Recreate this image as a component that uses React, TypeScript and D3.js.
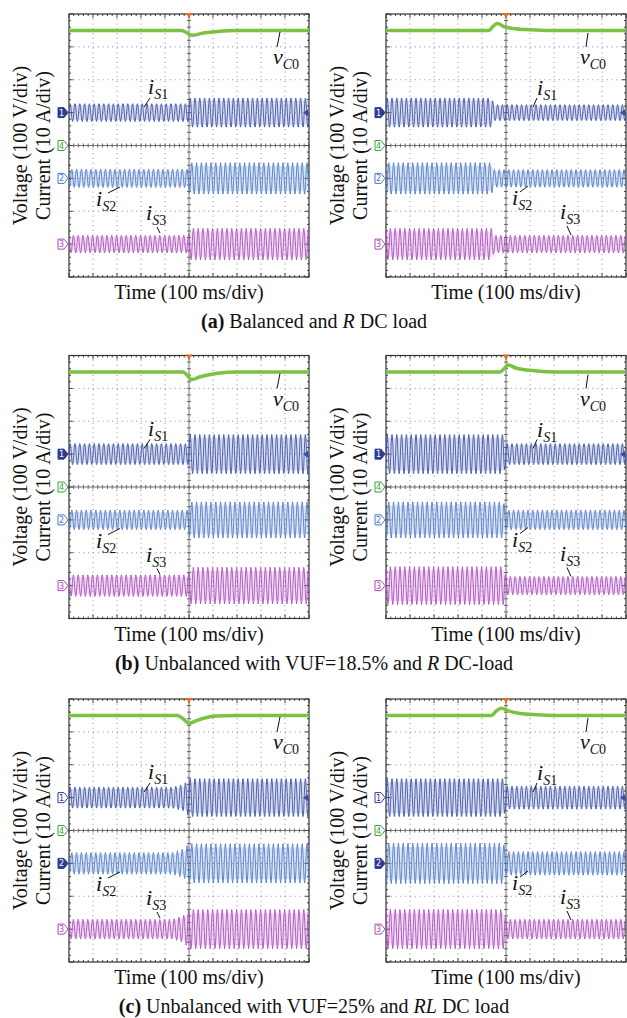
import React from 'react'
import * as d3 from 'd3'

const W = 627
const H = 1018
const PW = 240
const PH = 263
const DIVS_X = 10
const DIVS_Y = 8
const CYCLES_PER_DIV = 5 // 50 Hz grid at 100 ms/div

// trace levels, in divisions from the bottom of the screen
const LEVEL_VC0 = 7.5
const LEVEL_CH1 = 5
const LEVEL_CH4 = 4
const LEVEL_CH2 = 3
const LEVEL_CH3 = 1

// current envelopes: [time (div), half amplitude (div)]
const IS1_A_LEFT = [[0, 0.28], [4.97, 0.28], [5.03, 0.46], [10, 0.46]]
const IS2_A_LEFT = [[0, 0.28], [4.97, 0.28], [5.03, 0.48], [10, 0.48]]
const IS3_A_LEFT = [[0, 0.27], [4.97, 0.27], [5.03, 0.48], [10, 0.48]]
const IS1_A_RIGHT = [[0, 0.46], [4.4, 0.46], [4.5, 0.25], [10, 0.25]]
const IS2_A_RIGHT = [[0, 0.48], [4.4, 0.48], [4.5, 0.27], [10, 0.27]]
const IS3_A_RIGHT = [[0, 0.48], [4.4, 0.48], [4.5, 0.27], [10, 0.27]]

const IS1_B_LEFT = [[0, 0.33], [4.97, 0.33], [5.03, 0.62], [10, 0.62]]
const IS2_B_LEFT = [[0, 0.3], [4.97, 0.3], [5.03, 0.55], [10, 0.55]]
const IS3_B_LEFT = [[0, 0.33], [4.97, 0.33], [5.03, 0.56], [10, 0.56]]
const IS1_B_RIGHT = [[0, 0.62], [4.9, 0.62], [5.0, 0.33], [10, 0.33]]
const IS2_B_RIGHT = [[0, 0.55], [4.9, 0.55], [5.0, 0.3], [10, 0.3]]
const IS3_B_RIGHT = [[0, 0.58], [4.9, 0.58], [5.0, 0.28], [10, 0.28]]

const IS1_C_LEFT = [[0, 0.33], [4.3, 0.33], [4.8, 0.42], [5.0, 0.6], [10, 0.6]]
const IS2_C_LEFT = [[0, 0.33], [4.3, 0.33], [4.8, 0.45], [5.0, 0.6], [10, 0.6]]
const IS3_C_LEFT = [[0, 0.3], [4.3, 0.3], [4.8, 0.42], [5.0, 0.6], [10, 0.6]]
const IS1_C_RIGHT = [[0, 0.6], [4.9, 0.6], [5.0, 0.36], [10, 0.36]]
const IS2_C_RIGHT = [[0, 0.62], [4.9, 0.62], [5.0, 0.36], [10, 0.36]]
const IS3_C_RIGHT = [[0, 0.6], [4.9, 0.6], [5.0, 0.3], [10, 0.3]]

// dc-link voltage deviation: [time (div), offset (div)]
const VC0_A_LEFT = [[0, 0], [4.7, 0], [4.9, -0.07], [5.1, -0.15], [5.6, -0.08], [6.2, -0.03], [7, 0], [10, 0]]
const VC0_A_RIGHT = [[0, 0], [4.3, 0], [4.45, 0.12], [4.65, 0.21], [4.9, 0.12], [5.3, 0.06], [6, 0.02], [6.8, 0], [10, 0]]
const VC0_B_LEFT = [[0, 0], [4.75, 0], [4.95, -0.12], [5.1, -0.23], [5.5, -0.14], [6.2, -0.04], [7, 0], [10, 0]]
const VC0_B_RIGHT = [[0, 0], [4.75, 0], [4.95, 0.12], [5.1, 0.21], [5.4, 0.12], [6, 0.05], [7, 0], [10, 0]]
const VC0_C_LEFT = [[0, 0], [4.5, 0], [4.8, -0.13], [5.0, -0.24], [5.3, -0.16], [5.7, -0.07], [6.1, -0.02], [7, 0], [10, 0]]
const VC0_C_RIGHT = [[0, 0], [4.4, 0], [4.6, 0.14], [4.8, 0.22], [5.1, 0.14], [5.6, 0.06], [6.3, 0.02], [7, 0], [10, 0]]

const CAPTIONS = [
  [['(a)', 'b'], [' Balanced and ', ''], ['R', 'i'], [' DC load', '']],
  [['(b)', 'b'], [' Unbalanced with VUF=18.5% and ', ''], ['R', 'i'], [' DC-load', '']],
  [['(c)', 'b'], [' Unbalanced with VUF=25% and ', ''], ['RL', 'i'], [' DC load', '']],
]

const Y_LABEL_1 = 'Voltage (100 V/div)'
const Y_LABEL_2 = 'Current (10 A/div)'
const X_LABEL = 'Time (100 ms/div)'

const COL_VC0 = '#7cc242'
const COL_IS1 = '#3a4ea6'
const COL_IS2 = '#4877c6'
const COL_IS3 = '#aa48bd'
const COL_CH4 = '#3aa53a'
const FONT = '"Liberation Serif", "Times New Roman", serif'

const ROWS = [14, 355.5, 699]
const COLS = [69, 386]

const PANELS = [
  { row: 0, col: 0, is1: IS1_A_LEFT, is2: IS2_A_LEFT, is3: IS3_A_LEFT, vc0: VC0_A_LEFT, filled: 1 },
  { row: 0, col: 1, is1: IS1_A_RIGHT, is2: IS2_A_RIGHT, is3: IS3_A_RIGHT, vc0: VC0_A_RIGHT, filled: 1 },
  { row: 1, col: 0, is1: IS1_B_LEFT, is2: IS2_B_LEFT, is3: IS3_B_LEFT, vc0: VC0_B_LEFT, filled: 1 },
  { row: 1, col: 1, is1: IS1_B_RIGHT, is2: IS2_B_RIGHT, is3: IS3_B_RIGHT, vc0: VC0_B_RIGHT, filled: 1 },
  { row: 2, col: 0, is1: IS1_C_LEFT, is2: IS2_C_LEFT, is3: IS3_C_LEFT, vc0: VC0_C_LEFT, filled: 2 },
  { row: 2, col: 1, is1: IS1_C_RIGHT, is2: IS2_C_RIGHT, is3: IS3_C_RIGHT, vc0: VC0_C_RIGHT, filled: 2 },
]

// label anchors relative to panel corner: [textX, baseline, leader x1, y1, x2, y2]
const LABELS_LEFT = {
  vc0: [204, 50, 211, 18, 208, 33],
  is1: [79, 80, 81, 84, 75, 93],
  is2: [27, 192, 39, 179, 51, 173],
  is3: [77, 206, 88, 213, 91, 219],
}
const LABELS_RIGHT = {
  vc0: [194, 50, 202, 19, 200, 33],
  is1: [151, 81, 151, 84, 147, 93],
  is2: [126, 191, 134, 178, 142, 172],
  is3: [174, 205, 181, 212, 185, 221],
}

function envScale(env) {
  return d3.scaleLinear().domain(env.map((d) => d[0])).range(env.map((d) => d[1]))
}

function wavePath(env, level, phase, x, y) {
  const amp = envScale(env)
  const ts = d3.range(0, DIVS_X + 0.0001, 0.02)
  return d3.line()
    .x((t) => x(t))
    .y((t) => y(level + amp(t) * Math.sin(2 * Math.PI * CYCLES_PER_DIV * t + phase)))(ts)
}

// faint persistence band between the envelope limits
function bandPath(env, level, x, y) {
  const amp = envScale(env)
  const ts = d3.range(0, DIVS_X + 0.0001, 0.05)
  return d3.area()
    .x((t) => x(t))
    .y0((t) => y(level - amp(t) * 0.8))
    .y1((t) => y(level + amp(t) * 0.8))(ts)
}

function Label({ main, sub, pos, ox, oy }) {
  const [tx, ty, x1, y1, x2, y2] = pos
  return (
    <g>
      <line x1={ox + x1} y1={oy + y1} x2={ox + x2} y2={oy + y2} stroke="#111" strokeWidth={1} />
      <text x={ox + tx} y={oy + ty} fontFamily={FONT} fill="#111">
        <tspan fontStyle="italic" fontSize={22}>{main}</tspan>
        <tspan fontStyle="italic" fontSize={14} dy={5}>{sub[0]}</tspan>
        <tspan fontSize={14}>{sub[1]}</tspan>
      </text>
    </g>
  )
}

function ChTag({ x, y, n, color, filled }) {
  const d = `M${x - 10},${y - 5}H${x - 4}L${x},${y}L${x - 4},${y + 5}H${x - 10}Z`
  return (
    <g>
      <path d={d} fill={filled ? color : '#fff'} stroke={color} strokeWidth={1} />
      <text x={x - 6.5} y={y + 3} fontSize={8} textAnchor="middle" fontFamily="DejaVu Sans"
        fill={filled ? '#fff' : color}>{n}</text>
    </g>
  )
}

function Panel({ p }) {
  const ox = COLS[p.col]
  const oy = ROWS[p.row]
  const x = d3.scaleLinear().domain([0, DIVS_X]).range([ox, ox + PW])
  const y = d3.scaleLinear().domain([0, DIVS_Y]).range([oy + PH, oy])
  const L = p.col === 0 ? LABELS_LEFT : LABELS_RIGHT
  const minorX = d3.range(0, DIVS_X + 0.001, 0.2)
  const minorY = d3.range(0, DIVS_Y + 0.001, 0.2)
  const vc0Line = d3.line().x((d) => x(d[0])).y((d) => y(LEVEL_VC0 + d[1])).curve(d3.curveMonotoneX)
  const traces = [
    { env: p.is3, level: LEVEL_CH3, phase: (2 * Math.PI) / 3, color: COL_IS3 },
    { env: p.is2, level: LEVEL_CH2, phase: (-2 * Math.PI) / 3, color: COL_IS2 },
    { env: p.is1, level: LEVEL_CH1, phase: 0, color: COL_IS1 },
  ]
  return (
    <g>
      {/* dotted grid */}
      {d3.range(1, DIVS_X).filter((i) => i !== 5).map((i) => (
        <line key={'gx' + i} x1={x(i)} x2={x(i)} y1={oy} y2={oy + PH} stroke="#888" strokeWidth={1} strokeDasharray="1,3.8" />
      ))}
      {d3.range(1, DIVS_Y).filter((i) => i !== 4).map((i) => (
        <line key={'gy' + i} x1={ox} x2={ox + PW} y1={y(i)} y2={y(i)} stroke="#888" strokeWidth={1} strokeDasharray="1,3.8" />
      ))}
      {/* centre axes with minor ticks */}
      <line x1={x(5)} x2={x(5)} y1={oy} y2={oy + PH} stroke="#777" strokeWidth={1} />
      <line x1={ox} x2={ox + PW} y1={y(4)} y2={y(4)} stroke="#777" strokeWidth={1} />
      {minorX.map((t, i) => (
        <line key={'cx' + i} x1={x(t)} x2={x(t)} y1={y(4) - 2} y2={y(4) + 2} stroke="#666" />
      ))}
      {minorY.map((t, i) => (
        <line key={'cy' + i} x1={x(5) - 2} x2={x(5) + 2} y1={y(t)} y2={y(t)} stroke="#666" />
      ))}
      {/* border ticks */}
      {minorX.map((t, i) => {
        const len = Math.abs(t - Math.round(t)) < 0.01 ? 4 : 2
        return (
          <g key={'bx' + i}>
            <line x1={x(t)} x2={x(t)} y1={oy} y2={oy + len} stroke="#444" />
            <line x1={x(t)} x2={x(t)} y1={oy + PH} y2={oy + PH - len} stroke="#444" />
          </g>
        )
      })}
      {minorY.map((t, i) => {
        const len = Math.abs(t - Math.round(t)) < 0.01 ? 4 : 2
        return (
          <g key={'by' + i}>
            <line x1={ox} x2={ox + len} y1={y(t)} y2={y(t)} stroke="#444" />
            <line x1={ox + PW} x2={ox + PW - len} y1={y(t)} y2={y(t)} stroke="#444" />
          </g>
        )
      })}
      <rect x={ox} y={oy} width={PW} height={PH} fill="none" stroke="#333" strokeWidth={1.2} />

      {/* traces */}
      {traces.map((tr, i) => (
        <g key={'tr' + i}>
          <path d={bandPath(tr.env, tr.level, x, y)} fill={tr.color} fillOpacity={0.18} />
          <path d={wavePath(tr.env, tr.level, tr.phase, x, y)} fill="none" stroke={tr.color} strokeWidth={0.85} />
        </g>
      ))}
      <path d={vc0Line(p.vc0)} fill="none" stroke={COL_VC0} strokeWidth={3.5} />

      {/* trigger and channel markers */}
      <path d={`M${x(5) - 3.5},${oy - 1}L${x(5) + 3.5},${oy - 1}L${x(5)},${oy + 4}Z`} fill="#f06a24" />
      <path d={`M${ox + PW - 1},${y(LEVEL_CH1) - 3.5}L${ox + PW - 1},${y(LEVEL_CH1) + 3.5}L${ox + PW - 6},${y(LEVEL_CH1)}Z`} fill={COL_IS1} />
      <ChTag x={ox - 1} y={y(LEVEL_CH1)} n="1" color="#2e3c92" filled={p.filled === 1} />
      <ChTag x={ox - 1} y={y(LEVEL_CH4)} n="4" color={COL_CH4} filled={false} />
      <ChTag x={ox - 1} y={y(LEVEL_CH2)} n="2" color={p.filled === 2 ? '#2e3c92' : COL_IS2} filled={p.filled === 2} />
      <ChTag x={ox - 1} y={y(LEVEL_CH3)} n="3" color={COL_IS3} filled={false} />

      {/* labels */}
      <Label main="v" sub={['C', '0']} pos={L.vc0} ox={ox} oy={oy} />
      <Label main="i" sub={['S', '1']} pos={L.is1} ox={ox} oy={oy} />
      <Label main="i" sub={['S', '2']} pos={L.is2} ox={ox} oy={oy} />
      <Label main="i" sub={['S', '3']} pos={L.is3} ox={ox} oy={oy} />

      {/* axis titles */}
      <text transform={`translate(${ox - 42},${oy + PH / 2}) rotate(-90)`} textAnchor="middle" fontSize={20} fontFamily={FONT} fill="#111">{Y_LABEL_1}</text>
      <text transform={`translate(${ox - 19},${oy + PH / 2}) rotate(-90)`} textAnchor="middle" fontSize={20} fontFamily={FONT} fill="#111">{Y_LABEL_2}</text>
      <text x={ox + PW / 2} y={oy + PH + 22} textAnchor="middle" fontSize={20} fontFamily={FONT} fill="#111">{X_LABEL}</text>
    </g>
  )
}

export default function App() {
  return (
    <svg width={W} height={H} style={{ position: 'absolute', left: 0, top: 0, background: '#fff' }}>
      <rect width={W} height={H} fill="#fff" />
      {PANELS.map((p, i) => <Panel key={i} p={p} />)}
      {CAPTIONS.map((parts, i) => (
        <text key={i} x={314} y={ROWS[i] + PH + 51} textAnchor="middle" fontSize={20} fontFamily={FONT} fill="#111">
          {parts.map(([s, st], j) => (
            <tspan key={j} fontWeight={st === 'b' ? 'bold' : 'normal'} fontStyle={st === 'i' ? 'italic' : 'normal'}>{s}</tspan>
          ))}
        </text>
      ))}
    </svg>
  )
}
